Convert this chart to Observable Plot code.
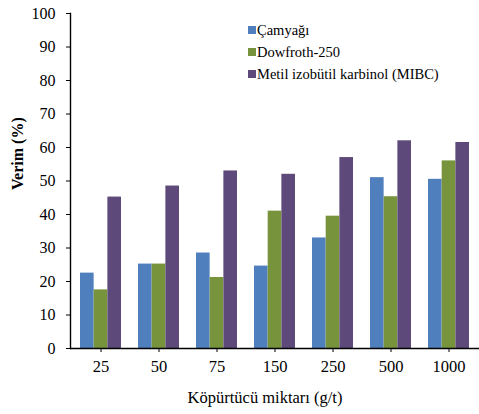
<!DOCTYPE html>
<html><head><meta charset="utf-8">
<script src="https://cdn.jsdelivr.net/npm/d3@7"></script>
<script src="https://cdn.jsdelivr.net/npm/@observablehq/plot@0.6"></script>
<style>
body{margin:0;background:#fff;}
#wrap{position:relative;width:479px;height:414px;font-family:"Liberation Serif","Times New Roman",serif;}
#legend{position:absolute;left:248px;top:19px;font-size:14.5px;line-height:22px;color:#000;}
#legend span.sw{display:inline-block;width:8px;height:8px;margin-right:1px;vertical-align:1px;}
svg text{font-family:"Liberation Serif","Times New Roman",serif;}
</style></head>
<body><div id="wrap"><div id="legend"></div></div>
<script>
const categories = ["25","50","75","150","250","500","1000"];
const series = ["Çamyağı","Dowfroth-250","Metil izobütil karbinol (MIBC)"];
const camyagi = [22.5, 25.2, 28.5, 24.6, 33.0, 51.0, 50.5];
const dowfroth = [17.5, 25.2, 21.2, 41.0, 39.5, 45.3, 56.0];
const mibc = [45.2, 48.5, 53.0, 52.0, 57.0, 62.0, 61.5];
const colors = ["#4f7fbd", "#77933c", "#5e4a7a"];
const yTicks = [0,10,20,30,40,50,60,70,80,90,100];
const xTitle = "Köpürtücü miktarı (g/t)";
const yTitle = "Verim (%)";

const W = 479, H = 414, mL = 70, mR = 0, mT = 13, mB = 66;
const pIn = 0.3, pOut = 0.136;
const values = [camyagi, dowfroth, mibc];
const bw = d3.scaleBand().domain(categories).range([mL, W - mR]).paddingInner(pIn).paddingOuter(pOut).bandwidth();

const barMarks = series.map((s, j) => Plot.barY(
  categories.map((c, i) => ({cat: c, series: s, value: values[j][i]})),
  {x: "cat", y: "value", fill: "series", insetLeft: j * bw / 3, insetRight: (2 - j) * bw / 3}
));

const chart = Plot.plot({
  width: W, height: H,
  marginTop: mT, marginBottom: mB, marginLeft: mL, marginRight: mR,
  style: {fontFamily: "'Liberation Serif', 'Times New Roman', serif", fontSize: "16px", color: "#000", background: "#fff", overflow: "visible"},
  x: {domain: categories, paddingInner: pIn, paddingOuter: pOut, label: null},
  y: {domain: [0, 100]},
  color: {domain: series, range: colors},
  marks: [
    ...barMarks,
    Plot.axisY({ticks: yTicks, tickSize: 4, tickPadding: 11, label: null, fontSize: 16}),
    Plot.axisX({tickSize: 4, tickPadding: 8, label: null, fontSize: 16.5}),
    Plot.ruleY([0], {stroke: "#000", strokeWidth: 1.4}),
    Plot.frame({anchor: "left", stroke: "#000", strokeWidth: 1.4}),
    Plot.text([yTitle], {frameAnchor: "left", rotate: -90, dx: -53, dy: 9, fontWeight: "bold", fontSize: 16}),
    Plot.text([xTitle], {frameAnchor: "bottom", dx: -10, dy: 54, fontSize: 16.5})
  ]
});
const wrap = document.getElementById("wrap");
wrap.insertBefore(chart, wrap.firstChild);

const lg = document.getElementById("legend");
series.forEach((s, i) => {
  const row = document.createElement("div");
  const sw = document.createElement("span");
  sw.className = "sw"; sw.style.background = colors[i];
  row.appendChild(sw);
  row.appendChild(document.createTextNode(s));
  lg.appendChild(row);
});
</script></body></html>
